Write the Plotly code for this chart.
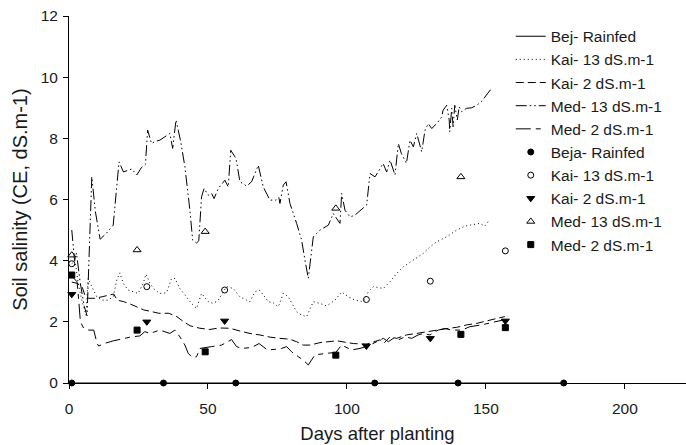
import plotly.graph_objects as go

# ---------------- data ----------------
# Lines (continuous records)
bej_line_days = [1, 34, 60, 110, 140, 178]
bej_line_vals = [0, 0, 0, 0, 0, 0]

kai13_days = [1, 2.2, 3.3, 4.6, 6.1, 6.9, 8.2, 10, 11.8, 14.1, 15.9, 17.2, 18.3, 19.5, 21.3, 23.7, 24.9,
              26.7, 27.7, 29.1, 30.9, 32.7, 35.1, 36.9, 38.1, 39.9, 41.7, 44.1, 45.9, 47.7, 50.1, 51.9,
              53.7, 56.7, 59.1, 61.5, 63.9, 65.1, 66.9, 68.5, 69.9, 71.7, 73.5, 75.3, 77.1, 78.9, 81.9,
              83.7, 85.5, 87.9, 90.3, 92.7, 95.7, 98.1, 100.5, 102.9, 105.9, 107.7, 109.5, 113.1, 115.5,
              117.9, 120.3, 123.9, 127.5, 129.9, 132.3, 135.9, 139.5, 142.5, 144.2, 147.8, 149.6, 151.4]
kai13_vals = [3.9, 4.0, 3.26, 2.71, 2.22, 3.42, 3.15, 2.82, 2.71, 2.71, 2.82, 3.37, 3.6, 3.26, 3.04, 2.98, 2.93,
              3.26, 3.56, 3.26, 3.04, 2.93, 2.95, 3.42, 3.42, 3.09, 2.88, 2.6, 2.44, 2.93, 2.66, 2.6,
              2.71, 3.15, 3.09, 2.82, 2.71, 2.66, 2.98, 3.04, 2.88, 2.66, 2.62, 2.49, 2.93, 2.82, 2.33,
              2.22, 2.17, 2.66, 2.6, 2.52, 2.71, 2.98, 2.82, 2.71, 2.66, 2.98, 3.15, 3.09, 3.31,
              3.58, 3.8, 4.02, 4.24, 4.45, 4.62, 4.78, 5.0, 5.13, 5.16, 5.22, 5.13, 5.35]

kai2_days = [1, 2.9, 4.7, 5.9, 7.1, 9.5, 11.9, 14.3, 16.1, 17.3, 19.7, 22.1, 24.5, 26.9, 29.9, 32.3, 35.9,
             38.8, 41.3, 43.6, 47.1, 50.7, 54, 57.9, 61.5, 65.1, 68.7, 72.3, 75.9, 79.5, 81.9, 84.3, 86.7,
             90.3, 96.3, 102.3, 107.1, 111.9, 113.5, 115.5, 117.9, 121.4, 125, 128.7, 132.3, 135.9,
             139.5, 143.1, 146.7, 150.3, 153.9, 156.8]
kai2_vals = [3.3, 3.26, 3.15, 2.82, 2.77, 2.77, 2.82, 2.88, 2.91, 2.71, 2.66, 2.58, 2.49, 2.39, 2.33, 2.28, 2.28,
             2.17, 2.0, 1.87, 1.79, 1.75, 1.8, 1.79, 1.7, 1.62, 1.57, 1.5, 1.46, 1.43, 1.35, 1.24, 1.24,
             1.32, 1.38, 1.29, 1.27, 1.41, 1.32, 1.51, 1.46, 1.57, 1.62, 1.68, 1.73, 1.78,
             1.82, 1.9, 1.95, 2.04, 2.11, 2.17]

med13_days = [1, 2, 2.7, 4, 5.5, 6.5, 8.2, 9.5, 11.2, 13.5, 15.9, 18, 19.6, 21, 22.6, 24.4, 26.1, 27.5,
              28.3, 29.7, 31, 32.7, 34.5, 36.3, 37.3, 38.5, 40.2, 41.7, 43.5, 44.5, 45.9, 46.7, 47.7,
              48.6, 50.1, 51.3, 52.2, 53.7, 56.1, 57.3, 58.2, 60.1, 61.5, 63.9, 65.7, 68.1, 69.9, 72.3,
              74.5, 75.5, 75.9, 77.1, 78.1, 79.5, 81.9, 83.7, 84.9, 86.1, 87.9, 90.3, 93.3, 95.1, 97.5,
              98.1, 99.3, 101.1, 102.9, 105, 107.1, 108.3, 110.1, 111.9, 113, 114.3, 115.5, 117.3,
              118.5, 119.6, 121.4, 122.7, 123.9, 125.1, 126.9, 128.1, 129.3, 130.5, 132.3, 134.1,
              134.6, 135.9, 136.8, 137, 137.7, 138.2, 138.8, 139.7, 140.4, 141.3, 143, 144.9, 146.7,
              148.4, 150.3, 152]
med13_vals = [5.0, 4.0, 4.25, 3.3, 2.5, 2.2, 6.74, 5.6, 4.7, 4.9, 5.16, 7.23, 6.9, 6.95, 7.0, 6.8, 7.05, 7.15,
              8.27, 7.83, 7.9, 7.94, 8.05, 8.16, 7.67, 8.6, 7.89, 7.07, 5.65, 4.67, 4.58, 4.65, 6.09,
              6.36, 6.14, 6.2, 6.03, 6.36, 6.63, 6.41, 7.61, 7.34, 6.58, 6.44, 6.58, 7.12, 6.41, 5.98,
              5.98, 6.07, 5.87, 6.47, 6.58, 5.87, 5.22, 4.67, 4.02, 3.42, 4.78, 5.0, 5.16, 5.54, 5.22,
              6.2, 5.65, 5.43, 5.49, 5.65, 5.82, 6.85, 6.74, 7.0, 7.18, 6.9, 7.29, 6.8,
              7.83, 7.5, 7.18, 7.94, 7.72, 8.16, 7.56, 8.27, 8.48, 8.32, 8.48, 8.7,
              8.92, 9.08, 8.6, 8.21, 8.98, 8.38, 9.08, 8.6, 9.03, 8.87, 8.98, 9.0, 9.08,
              9.2, 9.41, 9.63]

med2_days = [1, 2.9, 3.5, 4.1, 5.3, 7.1, 8.9, 10.1, 10.7, 13, 16, 19, 22, 25.5, 27.3, 29.1, 32.7, 36.3,
             38.1, 39.9, 41.7, 42.9, 44.4, 45.9, 47.1, 51.3, 54.9, 58.5, 60.3, 62.1, 65.7, 68.4, 69.9,
             71.4, 74.1, 76.5, 78.3, 80.1, 82.5, 84.3, 86.1, 88.5, 92.7, 96, 98.1, 99.3, 101.7, 104.7,
             108.3, 113.1, 114.9, 116.7, 118.5, 120.9, 123.3, 125.6, 127.5, 129.9, 132.8, 135.3,
             137.7, 141.3, 144.2, 148.4, 152, 156.2]
med2_vals = [3.5, 3.31, 2.71, 2.0, 1.79, 1.73, 1.73, 1.29, 1.21, 1.3, 1.38, 1.45, 1.5, 1.54, 1.68, 1.62, 1.73, 1.62,
             1.73, 1.51, 1.24, 0.97, 0.83, 0.86, 1.13, 1.19, 1.24, 1.42, 1.19, 1.13, 1.16, 1.29, 1.19,
             1.08, 1.1, 1.13, 1.19, 1.02, 0.86, 0.75, 0.59, 0.92, 0.97, 1.0, 1.24, 1.19, 1.08, 1.13,
             1.24, 1.46, 1.35, 1.46, 1.41, 1.51, 1.46, 1.57, 1.62, 1.57, 1.73, 1.78,
             1.73, 1.73, 1.84, 1.9, 1.97, 2.06]

# Measured points (symbols)
beja_pts_days = [1, 34, 60, 110, 140, 178]
beja_pts_vals = [0, 0, 0, 0, 0, 0]

kai13_pts_days = [1, 28, 56, 107, 130, 157]
kai13_pts_vals = [3.9, 3.15, 3.04, 2.73, 3.33, 4.32]

kai2_pts_days = [1, 28, 56, 107, 130, 157]
kai2_pts_vals = [2.9, 2.0, 2.03, 1.21, 1.46, 2.03]

med13_pts_days = [1, 24.5, 49, 96, 141]
med13_pts_vals = [4.18, 4.35, 4.95, 5.71, 6.74]

med2_pts_days = [1, 24.5, 49, 96, 141, 157]
med2_pts_vals = [3.53, 1.73, 1.02, 0.91, 1.59, 1.81]

x_ticks = [0, 50, 100, 150, 200]
y_ticks = [0, 2, 4, 6, 8, 10, 12]

# ---------------- figure ----------------
FONT = "Liberation Sans, Arial, Helvetica, sans-serif"
TXT = "#1a1a1a"
fig = go.Figure()

line_specs = [
    ("Bej- Rainfed", bej_line_days, bej_line_vals, "solid"),
    ("Kai- 13 dS.m-1", kai13_days, kai13_vals, "1px,3px"),
    ("Kai- 2 dS.m-1", kai2_days, kai2_vals, "8px,4px"),
    ("Med- 13 dS.m-1", med13_days, med13_vals, "11px,3px,1.5px,3px,1.5px,3px"),
    ("Med- 2 dS.m-1", med2_days, med2_vals, "15px,5px,5px,5px"),
]
for name, xs, ys, dash in line_specs:
    fig.add_trace(go.Scatter(x=xs, y=ys, mode="lines", name=name,
                             line=dict(color="black", width=1, dash=dash)))

marker_specs = [
    ("Beja- Rainfed", beja_pts_days, beja_pts_vals, "circle", 6),
    ("Kai- 13 dS.m-1", kai13_pts_days, kai13_pts_vals, "circle-open", 6),
    ("Kai- 2 dS.m-1", kai2_pts_days, kai2_pts_vals, "triangle-down", 7),
    ("Med- 13 dS.m-1", med13_pts_days, med13_pts_vals, "triangle-up-open", 7),
    ("Med- 2 dS.m-1", med2_pts_days, med2_pts_vals, "square", 6),
]
for name, xs, ys, sym, sz in marker_specs:
    fig.add_trace(go.Scatter(x=xs, y=ys, mode="markers", name=name, cliponaxis=False,
                             marker=dict(symbol=sym, size=sz, color="black",
                                         line=dict(color="black", width=1))))

axis_common = dict(showgrid=False, zeroline=False, showline=True, linecolor="black", linewidth=1,
                   ticks="outside", ticklen=5, tickcolor="black", tickwidth=1,
                   tickfont=dict(family=FONT, size=15.5, color=TXT))

fig.update_layout(
    width=686, height=445,
    margin=dict(l=69, r=0, t=16, b=62),
    paper_bgcolor="white", plot_bgcolor="white",
    font=dict(family=FONT, color=TXT),
    showlegend=True,
    legend=dict(x=0.716, y=0.99, xanchor="left", yanchor="top",
                font=dict(family=FONT, size=15.5, color=TXT),
                bgcolor="rgba(0,0,0,0)", borderwidth=0, tracegroupgap=0),
    xaxis=dict(range=[0, 222], tickvals=x_ticks, ticklabelstandoff=6,
               title=dict(text="Days after planting", font=dict(family=FONT, size=18.5, color=TXT),
                          standoff=11),
               **axis_common),
    yaxis=dict(range=[0, 12], tickvals=y_ticks, ticklabelstandoff=2,
               title=dict(text="Soil salinity (CE, dS.m-1)", font=dict(family=FONT, size=20, color=TXT),
                          standoff=7),
               **axis_common),
)

fig.write_html("out.html")
